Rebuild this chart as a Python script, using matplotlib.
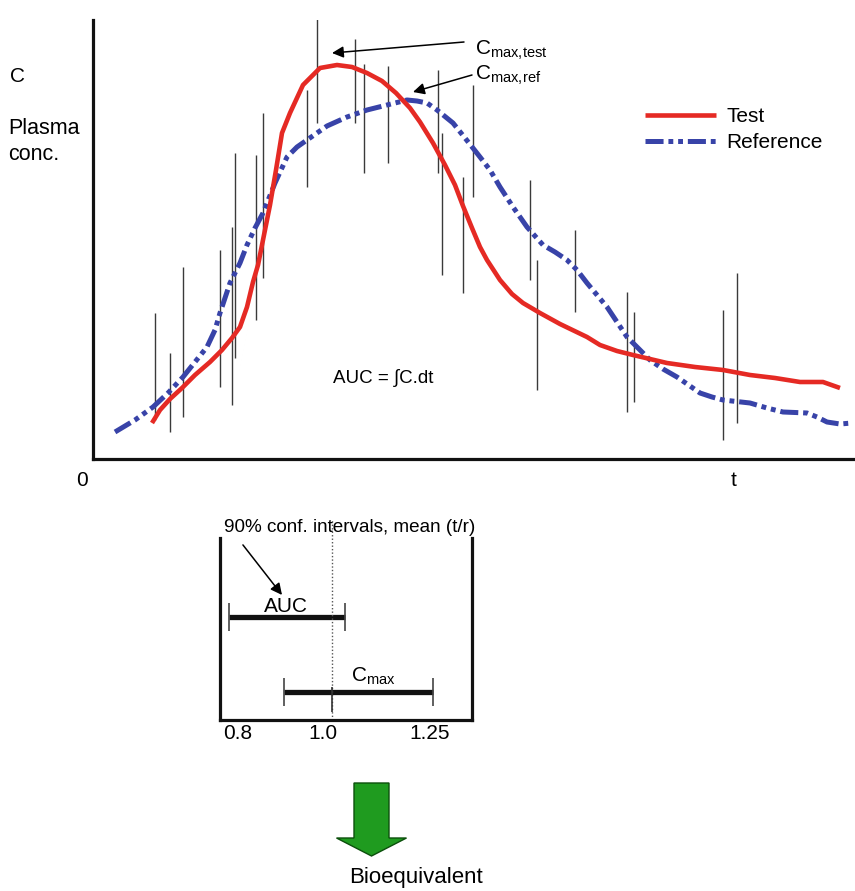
import numpy as np
import matplotlib
matplotlib.use("Agg")
import matplotlib.pyplot as plt
from matplotlib.patches import FancyArrow

plt.rcParams['font.family'] = ['Liberation Sans', 'DejaVu Sans']
plt.rcParams['mathtext.fontset'] = 'custom'
plt.rcParams['mathtext.rm'] = 'Liberation Sans'
plt.rcParams['mathtext.it'] = 'Liberation Sans:italic'
plt.rcParams['lines.scale_dashes'] = False

# ---------------- data (time / concentration in chart units) ----------------
t_test = [59, 67, 77, 89, 102, 117, 129, 139, 147, 154, 160, 165, 170, 177, 183, 189, 197,
          210, 227, 244, 259, 274, 289, 303, 317, 327, 340, 352, 362, 370, 379, 387, 394,
          407, 419, 430, 447, 467, 494, 507, 524, 540, 557, 574, 602, 630, 657, 682, 707,
          730, 747]
c_test = [36, 49, 60, 71, 84, 97, 109, 121, 132, 152, 177, 194, 219, 254, 289, 326, 346,
          374, 391, 394, 392, 386, 378, 366, 351, 337, 316, 294, 274, 253, 231, 212, 199,
          179, 165, 156, 146, 135, 122, 114, 108, 104, 100, 96, 92, 89, 84, 81, 77, 77, 71]

t_ref = [22, 42, 60, 75, 90, 102, 114, 122, 127, 137, 147, 154, 162, 170, 182, 194, 204,
         214, 234, 254, 274, 294, 314, 324, 334, 344, 360, 372, 387, 397, 407, 420, 434,
         450, 462, 474, 484, 494, 504, 514, 524, 534, 547, 557, 570, 584, 597, 607, 619,
         630, 657, 674, 690, 714, 724, 734, 747, 759]
c_ref = [27, 39, 52, 66, 82, 97, 112, 129, 146, 176, 196, 214, 231, 246, 276, 302, 312,
         319, 333, 342, 349, 354, 359, 358, 356, 349, 336, 321, 302, 289, 272, 252, 232,
         214, 207, 199, 189, 176, 164, 152, 137, 122, 109, 99, 90, 82, 73, 66, 62, 59,
         56, 51, 47, 46, 42, 37, 35, 36]

# individual subject ranges (vertical bars)
bar_t = [62, 77, 90, 127, 139, 142, 163, 170, 214, 224, 262, 271, 295, 345, 349, 370,
         380, 437, 444, 482, 534, 541, 630, 644]
bar_lo = [39, 27, 42, 72, 54, 101, 139, 181, 272, 336, 336, 286, 296, 286, 184, 166,
          262, 179, 69, 147, 47, 57, 19, 36]
bar_hi = [146, 106, 192, 209, 232, 306, 304, 346, 369, 451, 420, 395, 393, 389, 326, 282,
          374, 279, 199, 229, 167, 147, 149, 186]

# 90% confidence intervals of the test/reference ratio
ci_names = ['AUC', 'Cmax']
ci_lo = [0.779, 0.908]
ci_hi = [1.051, 1.258]
ci_mean = 1.021
ratio_ticks = [0.8, 1.0, 1.25]
ratio_ticklabels = ['0.8', '1.0', '1.25']

RED = '#E52A24'
BLUE = '#3843A8'
FS = 15

W, H = 855, 891
fig = plt.figure(figsize=(W / 100, H / 100), dpi=100)

# overlay axes in pixel coordinates for free text and the green arrow
ov = fig.add_axes([0, 0, 1, 1])
ov.set_xlim(0, W)
ov.set_ylim(H, 0)
ov.axis('off')

# ---------------- main concentration-time axes ----------------
ax = fig.add_axes([93 / W, (H - 459) / H, (W - 93) / W, (459 - 20) / H])
ax.set_xlim(0, W - 93)
ax.set_ylim(0, 439)
for s in ['top', 'right']:
    ax.spines[s].set_visible(False)
for s in ['left', 'bottom']:
    ax.spines[s].set_linewidth(2.3)
    ax.spines[s].set_color('#111111')
ax.set_xticks([])
ax.set_yticks([])
ax.patch.set_alpha(0)

ax.vlines(bar_t, bar_lo, bar_hi, color='#3a3a3a', lw=1.0, zorder=1)
ax.plot(t_test, c_test, color=RED, lw=3.3, solid_joinstyle='round',
        solid_capstyle='butt', label='Test', zorder=3)
ax.plot(t_ref, c_ref, color=BLUE, lw=3.6, dashes=(13, 3.5, 3.5, 3.5, 3.5, 3.5),
        dash_capstyle='butt', label='Reference', zorder=2)

leg = ax.legend(loc='upper left', bbox_to_anchor=(645 / W, 1 - 107 / H),
                bbox_transform=fig.transFigure, frameon=False, fontsize=FS,
                handlelength=3.4, handletextpad=0.5, labelspacing=0.35,
                borderpad=0, borderaxespad=0)

arrow_kw = dict(arrowstyle='-|>', color='black', lw=1.1, mutation_scale=17,
                shrinkA=0, shrinkB=0)
ax.annotate('', xy=(239, 406), xytext=(371, 417), arrowprops=arrow_kw)
ax.annotate('', xy=(320, 367), xytext=(379, 384), arrowprops=arrow_kw)
ax.text(382, 404, r'C$_{\mathrm{max,\!test}}$', fontsize=FS, ha='left', va='baseline')
ax.text(382, 379, r'C$_{\mathrm{max,\!ref}}$', fontsize=FS, ha='left', va='baseline')
ax.text(290, 81, 'AUC = \u222bC.dt', fontsize=13.5, ha='center', va='center')

ov.text(10, 76, 'C', fontsize=FS, ha='left', va='center')
ov.text(8, 129, 'Plasma', fontsize=15.5, ha='left', va='center')
ov.text(8, 155, 'conc.', fontsize=15.5, ha='left', va='center')
ov.text(82, 481, '0', fontsize=FS, ha='center', va='center')
ov.text(734, 481, 't', fontsize=FS, ha='center', va='center')

# ---------------- confidence interval panel ----------------
lax = fig.add_axes([220 / W, (H - 720) / H, 252 / W, 182 / H])
lax.set_xlim(0.7577, 1.3495)
lax.set_ylim(0, 1)
lax.spines['top'].set_visible(False)
for s in ['left', 'bottom', 'right']:
    lax.spines[s].set_linewidth(2.3)
    lax.spines[s].set_color('#111111')
lax.set_yticks([])
lax.set_xticks(ratio_ticks)
lax.set_xticklabels(ratio_ticklabels, fontsize=FS)
lax.tick_params(axis='x', length=0, pad=3)
lax.patch.set_alpha(0)

ci_y = [0.566, 0.154]
lax.hlines(ci_y, ci_lo, ci_hi, color='#111111', lw=3.8)
for y, lo, hi in zip(ci_y, ci_lo, ci_hi):
    lax.vlines([lo, hi], y - 0.075, y + 0.075, color='#444444', lw=1.2)
lax.axvline(ci_mean, ymin=0, ymax=1.1, color='#555555', lw=1.0, ls=(0, (1, 1.5)),
            clip_on=False)
lax.vlines([ci_mean], 0.044, 0.181, color='#333333', lw=1.2)
lax.text(0.9126, 0.626, 'AUC', fontsize=FS, ha='center', va='center')
lax.text(1.065, 0.242, r'C$_{\mathrm{max}}$', fontsize=FS, ha='left', va='center')
lax.text(0.016, 1.055, '90% conf. intervals, mean (t/r)', fontsize=13.6,
         ha='left', va='center', transform=lax.transAxes)
lax.annotate('', xy=(0.246, 0.687), xytext=(0.091, 0.962), xycoords='axes fraction',
             textcoords='axes fraction', arrowprops=arrow_kw)

# ---------------- conclusion arrow ----------------
ov.add_patch(FancyArrow(371.5, 783, 0, 73, width=35, head_width=70, head_length=18,
                        length_includes_head=True, facecolor='#1F9B1F',
                        edgecolor='#0B4F0B', lw=1.0))
ov.text(416, 878, 'Bioequivalent', fontsize=16, ha='center', va='center')

fig.savefig('out.png', dpi=100)
